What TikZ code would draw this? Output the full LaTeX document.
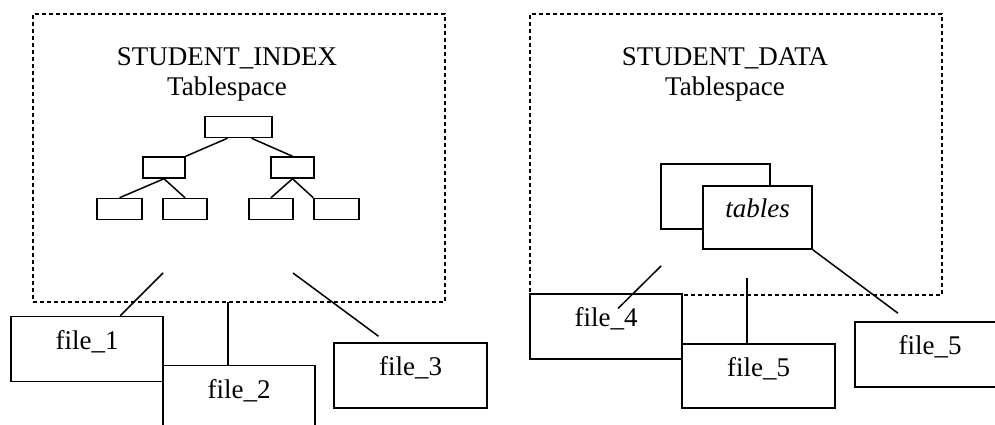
\documentclass[tikz,border=0pt]{standalone}
\usepackage{fontspec}
\setmainfont{Liberation Serif}

\begin{document}
\begin{tikzpicture}[
  x=1pt, y=-1pt, line width=1.5pt,
  tspace/.style={draw, line width=1.4pt, dash pattern=on 4pt off 3pt, inner sep=0pt},
  tsname/.style={align=center, inner sep=0pt, font=\fontsize{27}{30}\selectfont},
  tnode/.style={draw, fill=white, inner sep=0pt, minimum height=21pt},
  tbl/.style={draw, fill=white, inner sep=0pt, minimum width=109pt, text height=17pt, text depth=17pt, font=\fontsize{27}{30}\selectfont\itshape},
  filebox/.style={draw, fill=white, inner sep=0pt, minimum width=152pt, minimum height=65pt, text height=17pt, text depth=17pt, font=\fontsize{27}{30}\selectfont}
]
  \useasboundingbox (0,0) rectangle (995,425);
  \clip (0,0) rectangle (995,425);

  \node[tspace, minimum width=412pt, minimum height=288pt] (idxspace) at (239,158) {};
  \node[tspace, minimum width=412pt, minimum height=281pt] (dataspace) at (736,154.5) {};
  \node[tsname] (idxname) at (227,74.5) {STUDENT\_INDEX\\Tablespace};
  \node[tsname] (dataname) at (725,74.5) {STUDENT\_DATA\\Tablespace};

  \node[tnode, minimum width=67pt] (root) at (238.5,127) {};
  \node[tnode, minimum width=42pt] (midL) at (164,167.5) {};
  \node[tnode, minimum width=43pt] (midR) at (292.5,167.5) {};
  \node[tnode, minimum width=45pt] (leafA) at (119.5,209) {};
  \node[tnode, minimum width=44pt] (leafB) at (185,209) {};
  \node[tnode, minimum width=44pt] (leafC) at (271,209) {};
  \node[tnode, minimum width=45pt] (leafD) at (336.5,209) {};
  \draw ([xshift=-11pt]root.south) -- (midL.north east);
  \draw ([xshift=13pt]root.south) -- (midR.north);
  \draw (midL.south) -- (leafA.north);
  \draw (midL.south) -- (leafB.north);
  \draw (midR.south) -- (leafC.north);
  \draw (midR.south) -- (leafD.north west);

  \node[tbl, minimum height=65pt] (back) at (715.5,196.5) {};
  \node[tbl, minimum height=63pt] (front) at (757.5,217.5) {tables};

  \node[filebox] (f1) at (87,349) {file\_1};
  \node[filebox] (f2) at (239,398) {file\_2};
  \node[filebox, minimum width=153pt] (f3) at (410.5,375.5) {file\_3};
  \node[filebox] (f4) at (606,326.5) {file\_4};
  \node[filebox, minimum width=153pt, minimum height=64pt] (f5m) at (758.5,376) {file\_5};
  \node[filebox, minimum width=150pt] (f5r) at (930,354.5) {file\_5};

  \coordinate (c1) at (163,273);
  \coordinate (c2) at (228,302);
  \coordinate (c3) at (293,273);
  \coordinate (c4) at (661,266);
  \coordinate (c5) at (747,278);

  \draw (c1) -- (f1);
  \draw (c2) -- (c2 |- f2.north);
  \draw (c3) -- ([xshift=-32pt,yshift=6pt]f3.north);
  \draw (c4) -- ([xshift=12pt,yshift=18pt]f4.center);
  \draw (c5) -- (c5 |- f5m.north);
  \draw (front.south east) -- ([xshift=-32pt,yshift=8pt]f5r.north);
\end{tikzpicture}
\end{document}
